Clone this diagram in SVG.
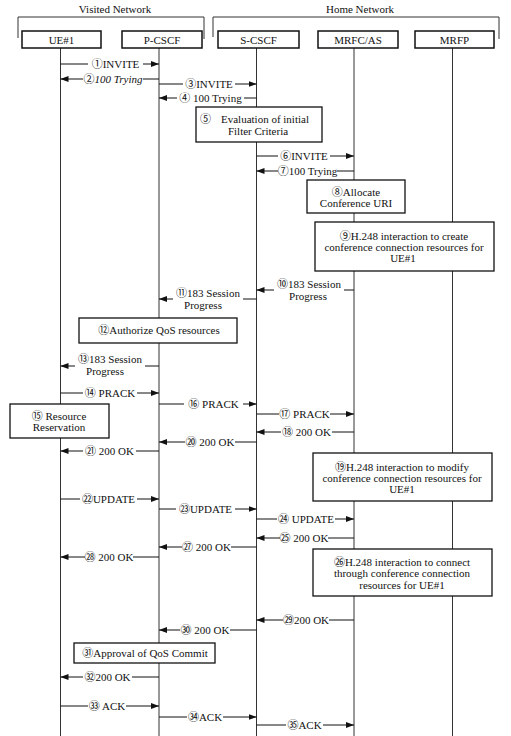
<svg xmlns="http://www.w3.org/2000/svg" width="511" height="736" viewBox="0 0 511 736">
<defs>
<style>
.t{font-family:"Liberation Serif","Noto Sans CJK SC",serif;font-size:11px;fill:#111}
.c{font-size:11px}
.m{text-anchor:middle}
.ll{stroke:#333;stroke-width:1}
.msg{stroke:#111;stroke-width:1;fill:none}
.box{fill:#fff;stroke:#111;stroke-width:1.3}
.hdr{fill:#fff;stroke:#111;stroke-width:1.5}
.gap{fill:#fff}
.br{fill:none;stroke:#333;stroke-width:1}
</style>
<marker id="ah" viewBox="0 0 8 6" refX="8" refY="3" markerWidth="8" markerHeight="6" orient="auto" markerUnits="userSpaceOnUse"><path d="M0,0 L8,3 L0,6 z" fill="#111"/></marker>
</defs>
<rect width="511" height="736" fill="#fff"/>

<g id="networks">
<path class="br" d="M18,38 V17 H204 V39"/>
<text class="t m" x="115" y="12.5">Visited Network</text>
<path class="br" d="M213,37 V17 H499 V39"/>
<text class="t m" x="360" y="12.5">Home Network</text>
</g>

<g id="lifelines">
<line class="ll" x1="60.5" y1="48" x2="60.5" y2="736"/>
<line class="ll" x1="159" y1="48" x2="159" y2="736"/>
<line class="ll" x1="256.5" y1="48" x2="256.5" y2="736"/>
<line class="ll" x1="354" y1="48" x2="354" y2="736"/>
<line class="ll" x1="452.5" y1="48" x2="452.5" y2="736"/>
</g>

<g id="ue1"><rect class="hdr" x="22" y="31" width="79" height="17"/><text class="t m" x="61.5" y="43.5">UE#1</text></g>
<g id="pcscf"><rect class="hdr" x="122" y="31" width="80" height="17"/><text class="t m" x="162" y="43.5">P-CSCF</text></g>
<g id="scscf"><rect class="hdr" x="218" y="31" width="81" height="17"/><text class="t m" x="258.5" y="43.5">S-CSCF</text></g>
<g id="mrfcas"><rect class="hdr" x="318" y="31" width="80" height="17"/><text class="t m" x="358" y="43.5">MRFC/AS</text></g>
<g id="mrfp"><rect class="hdr" x="415" y="31" width="79" height="17"/><text class="t m" x="454.5" y="43.5">MRFP</text></g>

<g id="connectors">
<g><line class="msg" x1="60.5" y1="64" x2="159" y2="64" marker-end="url(#ah)"/><rect class="gap" x="88" y="62" width="55" height="4"/><text class="t m" x="115.5" y="68"><tspan class="c">①</tspan>INVITE</text></g>
<g><line class="msg" x1="159" y1="79" x2="60.5" y2="79" marker-end="url(#ah)"/><rect class="gap" x="83" y="77" width="60" height="4"/><text class="t m" x="113" y="83"><tspan class="c">②</tspan><tspan font-style="italic">100 Trying</tspan></text></g>
<g><line class="msg" x1="159" y1="84" x2="256.5" y2="84" marker-end="url(#ah)"/><rect class="gap" x="183" y="82" width="52" height="4"/><text class="t m" x="209" y="88"><tspan class="c">③</tspan>INVITE</text></g>
<g><line class="msg" x1="256.5" y1="98" x2="159" y2="98" marker-end="url(#ah)"/><rect class="gap" x="177" y="96" width="67" height="4"/><text class="t m" x="210.5" y="102"><tspan class="c">④</tspan> 100 Trying</text></g>
<g><line class="msg" x1="256.5" y1="156" x2="354" y2="156" marker-end="url(#ah)"/><rect class="gap" x="278" y="154" width="52" height="4"/><text class="t m" x="304" y="160"><tspan class="c">⑥</tspan>INVITE</text></g>
<g><line class="msg" x1="354" y1="171" x2="256.5" y2="171" marker-end="url(#ah)"/><rect class="gap" x="278" y="169" width="59" height="4"/><text class="t m" x="307.5" y="175"><tspan class="c">⑦</tspan>100 Trying</text></g>
<g><line class="msg" x1="354" y1="290" x2="256.5" y2="290" marker-end="url(#ah)"/><rect class="gap" x="274" y="288" width="70" height="4"/><text class="t m" x="309" y="288"><tspan class="c">⑩</tspan>183 Session</text><text class="t m" x="308" y="300">Progress</text></g>
<g><line class="msg" x1="256.5" y1="299" x2="159" y2="299" marker-end="url(#ah)"/><rect class="gap" x="173" y="297" width="70" height="4"/><text class="t m" x="208" y="297"><tspan class="c">⑪</tspan>183 Session</text><text class="t m" x="203" y="309">Progress</text></g>
<g><line class="msg" x1="159" y1="366" x2="60.5" y2="366" marker-end="url(#ah)"/><rect class="gap" x="75" y="364" width="70" height="4"/><text class="t m" x="110" y="363"><tspan class="c">⑬</tspan>183 Session</text><text class="t m" x="105" y="375">Progress</text></g>
<g><line class="msg" x1="60.5" y1="393" x2="159" y2="393" marker-end="url(#ah)"/><rect class="gap" x="83" y="391" width="54" height="4"/><text class="t m" x="110" y="397"><tspan class="c">⑭</tspan> PRACK</text></g>
<g><line class="msg" x1="159" y1="404" x2="256.5" y2="404" marker-end="url(#ah)"/><rect class="gap" x="184" y="402" width="59" height="4"/><text class="t m" x="213.5" y="408"><tspan class="c">⑯</tspan> PRACK</text></g>
<g><line class="msg" x1="256.5" y1="414" x2="354" y2="414" marker-end="url(#ah)"/><rect class="gap" x="279" y="412" width="51" height="4"/><text class="t m" x="304.5" y="418"><tspan class="c">⑰</tspan> PRACK</text></g>
<g><line class="msg" x1="354" y1="432" x2="256.5" y2="432" marker-end="url(#ah)"/><rect class="gap" x="281" y="430" width="51" height="4"/><text class="t m" x="306.5" y="436"><tspan class="c">⑱</tspan> 200 OK</text></g>
<g><line class="msg" x1="256.5" y1="442" x2="159" y2="442" marker-end="url(#ah)"/><rect class="gap" x="185" y="440" width="50" height="4"/><text class="t m" x="210" y="446"><tspan class="c">⑳</tspan> 200 OK</text></g>
<g><line class="msg" x1="159" y1="451" x2="60.5" y2="451" marker-end="url(#ah)"/><rect class="gap" x="83" y="449" width="53" height="4"/><text class="t m" x="109.5" y="455"><tspan class="c">㉑</tspan> 200 OK</text></g>
<g><line class="msg" x1="60.5" y1="499" x2="159" y2="499" marker-end="url(#ah)"/><rect class="gap" x="80" y="497" width="57" height="4"/><text class="t m" x="108.5" y="503"><tspan class="c">㉒</tspan>UPDATE</text></g>
<g><line class="msg" x1="159" y1="509" x2="256.5" y2="509" marker-end="url(#ah)"/><rect class="gap" x="176" y="507" width="59" height="4"/><text class="t m" x="205.5" y="513"><tspan class="c">㉓</tspan>UPDATE</text></g>
<g><line class="msg" x1="256.5" y1="519" x2="354" y2="519" marker-end="url(#ah)"/><rect class="gap" x="277" y="517" width="58" height="4"/><text class="t m" x="306" y="523"><tspan class="c">㉔</tspan> UPDATE</text></g>
<g><line class="msg" x1="354" y1="538" x2="256.5" y2="538" marker-end="url(#ah)"/><rect class="gap" x="280" y="536" width="48" height="4"/><text class="t m" x="304" y="542"><tspan class="c">㉕</tspan> 200 OK</text></g>
<g><line class="msg" x1="256.5" y1="547" x2="159" y2="547" marker-end="url(#ah)"/><rect class="gap" x="182" y="545" width="49" height="4"/><text class="t m" x="206.5" y="551"><tspan class="c">㉗</tspan> 200 OK</text></g>
<g><line class="msg" x1="159" y1="557" x2="60.5" y2="557" marker-end="url(#ah)"/><rect class="gap" x="85" y="555" width="48" height="4"/><text class="t m" x="109" y="561"><tspan class="c">㉘</tspan> 200 OK</text></g>
<g><line class="msg" x1="354" y1="620" x2="256.5" y2="620" marker-end="url(#ah)"/><rect class="gap" x="283" y="618" width="46" height="4"/><text class="t m" x="306" y="624"><tspan class="c">㉙</tspan>200 OK</text></g>
<g><line class="msg" x1="256.5" y1="630" x2="159" y2="630" marker-end="url(#ah)"/><rect class="gap" x="180" y="628" width="50" height="4"/><text class="t m" x="205" y="634"><tspan class="c">㉚</tspan> 200 OK</text></g>
<g><line class="msg" x1="159" y1="677" x2="60.5" y2="677" marker-end="url(#ah)"/><rect class="gap" x="83" y="675" width="49" height="4"/><text class="t m" x="107.5" y="681"><tspan class="c">㉜</tspan>200 OK</text></g>
<g><line class="msg" x1="60.5" y1="706" x2="159" y2="706" marker-end="url(#ah)"/><rect class="gap" x="88" y="704" width="38" height="4"/><text class="t m" x="107" y="710"><tspan class="c">㉝</tspan> ACK</text></g>
<g><line class="msg" x1="159" y1="717" x2="256.5" y2="717" marker-end="url(#ah)"/><rect class="gap" x="187" y="715" width="36" height="4"/><text class="t m" x="205" y="721"><tspan class="c">㉞</tspan>ACK</text></g>
<g><line class="msg" x1="256.5" y1="725" x2="354" y2="725" marker-end="url(#ah)"/><rect class="gap" x="286" y="723" width="37" height="4"/><text class="t m" x="304.5" y="729"><tspan class="c">㉟</tspan>ACK</text></g>
</g>

<g id="step5"><rect class="box" x="196" y="107" width="126" height="35"/><text class="t" x="200" y="123"><tspan class="c">⑤</tspan></text><text class="t m" x="265" y="123">Evaluation of initial</text><text class="t m" x="258" y="135">Filter Criteria</text></g>
<g id="step8"><rect class="box" x="307" y="180" width="98" height="33"/><text class="t m" x="356" y="196"><tspan class="c">⑧</tspan>Allocate</text><text class="t m" x="356" y="207">Conference URI</text></g>
<g id="step9"><rect class="box" x="315" y="222" width="179" height="49"/><text class="t m" x="404" y="240"><tspan class="c">⑨</tspan>H.248 interaction to create</text><text class="t m" x="404" y="251">conference connection resources for</text><text class="t m" x="403" y="262">UE#1</text></g>
<g id="step12"><rect class="box" x="79" y="318" width="158" height="25"/><text class="t m" x="159" y="334"><tspan class="c">⑫</tspan>Authorize QoS resources</text></g>
<g id="step15"><rect class="box" x="10" y="404" width="99" height="34"/><text class="t m" x="59" y="420"><tspan class="c">⑮</tspan> Resource</text><text class="t m" x="59" y="431">Reservation</text></g>
<g id="step19"><rect class="box" x="313" y="453" width="179" height="48"/><text class="t m" x="402" y="471"><tspan class="c">⑲</tspan>H.248 interaction to modify</text><text class="t m" x="402" y="481.5">conference connection resources for</text><text class="t m" x="402" y="492.5">UE#1</text></g>
<g id="step26"><rect class="box" x="313" y="549" width="179" height="47"/><text class="t m" x="402" y="566"><tspan class="c">㉖</tspan>H.248 interaction to connect</text><text class="t m" x="402" y="577">through conference connection</text><text class="t m" x="402" y="589">resources for UE#1</text></g>
<g id="step31"><rect class="box" x="74" y="643" width="141" height="20"/><text class="t m" x="145" y="657"><tspan class="c">㉛</tspan>Approval of QoS Commit</text></g>
</svg>
